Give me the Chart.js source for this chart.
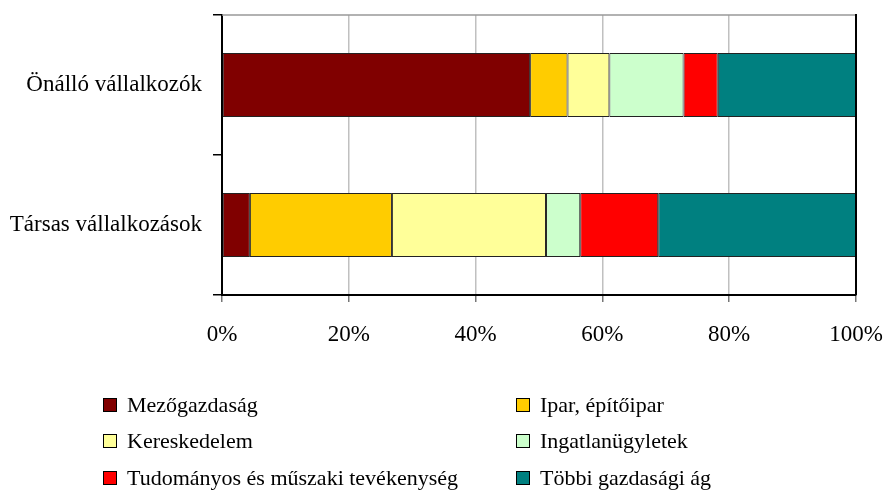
<!DOCTYPE html>
<html>
<head>
<meta charset="utf-8">
<script src="https://cdn.jsdelivr.net/npm/chart.js@4/dist/chart.umd.min.js"></script>
<style>
  html, body { margin: 0; padding: 0; background: #fff; }
  #wrap { position: relative; width: 887px; height: 493px; }
  #legend { position: absolute; left: 0; top: 0; width: 887px; height: 493px; pointer-events: none;
            font-family: 'Liberation Serif', serif; font-size: 22px; color: #000; }
  .item { position: absolute; display: flex; align-items: center; white-space: nowrap; }
  .box { width: 12px; height: 12px; border: 1px solid #000; margin-right: 10px; }
</style>
</head>
<body>
<div id="wrap">
  <canvas id="c" width="887" height="493"></canvas>
  <div id="legend"></div>
</div>
<script>
const categories = ['Önálló vállalkozók', 'Társas vállalkozások'];
const seriesNames = ['Mezőgazdaság', 'Ipar, építőipar', 'Kereskedelem', 'Ingatlanügyletek', 'Tudományos és műszaki tevékenység', 'Többi gazdasági ág'];
const mezogazdasag = [48.6, 4.4];
const ipar = [5.9, 22.4];
const kereskedelem = [6.6, 24.3];
const ingatlan = [11.7, 5.4];
const tudomanyos = [5.4, 12.3];
const tobbi = [21.8, 31.2];
const xTicks = [0, 20, 40, 60, 80, 100];
const colors = ['#800000', '#FFCC00', '#FFFF99', '#CCFFCC', '#FF0000', '#008080'];

const seriesValues = [mezogazdasag, ipar, kereskedelem, ingatlan, tudomanyos, tobbi];

Chart.defaults.font.family = "'Liberation Serif', serif";
Chart.defaults.font.size = 23;
Chart.defaults.color = '#000';

const borderPlugin = {
  id: 'areaBorder',
  afterDraw(chart) {
    const a = chart.chartArea, ctx = chart.ctx;
    ctx.save();
    ctx.strokeStyle = '#999';
    ctx.lineWidth = 1.5;
    ctx.beginPath(); ctx.moveTo(a.left, a.top); ctx.lineTo(a.right, a.top); ctx.stroke();
    ctx.strokeStyle = '#000';
    ctx.lineWidth = 2;
    ctx.beginPath(); ctx.moveTo(a.right, a.top - 1); ctx.lineTo(a.right, a.bottom); ctx.stroke();
    ctx.restore();
  }
};

const chart = new Chart(document.getElementById('c'), {
  type: 'bar',
  data: {
    labels: categories,
    datasets: seriesNames.map((n, i) => ({
      label: n,
      data: seriesValues[i],
      backgroundColor: colors[i],
      borderColor: '#222',
      borderWidth: 1,
      borderSkipped: false,
      categoryPercentage: 1,
      barPercentage: 0.457
    }))
  },
  options: {
    indexAxis: 'y',
    responsive: false,
    animation: false,
    layout: { padding: { left: 0, right: 31, top: 15, bottom: 138 } },
    plugins: { legend: { display: false }, tooltip: { enabled: false } },
    scales: {
      x: {
        stacked: true,
        min: 0, max: 100,
        afterBuildTicks(s) { s.ticks = xTicks.map(v => ({ value: v })); },
        afterFit(s) { s.height = 60; s.paddingLeft = 0; s.paddingRight = 0; },
        ticks: { callback: v => v + '%', padding: 19, font: { size: 23 }, maxRotation: 0 },
        grid: { color: '#c0c0c0', lineWidth: 1.5, tickLength: 7, tickColor: '#777' },
        border: { color: '#000', width: 2 }
      },
      y: {
        stacked: true,
        afterFit(s) { s.width = 222; s.paddingTop = 0; s.paddingBottom = 0; },
        ticks: { padding: 11, font: { size: 23 } },
        grid: { offset: true, drawOnChartArea: false, tickLength: 9, tickColor: '#000', lineWidth: 1.5 },
        border: { color: '#000', width: 2 }
      }
    }
  },
  plugins: [borderPlugin]
});

// legend in two columns built from chart datasets
const legend = document.getElementById('legend');
const colX = [103, 516];
const rowY = [404.5, 441, 477.5];
chart.data.datasets.forEach((ds, i) => {
  const el = document.createElement('div');
  el.className = 'item';
  el.style.left = colX[i % 2] + 'px';
  el.style.top = (rowY[Math.floor(i / 2)] - 13) + 'px';
  el.style.height = '26px';
  const b = document.createElement('span');
  b.className = 'box';
  b.style.background = ds.backgroundColor;
  const t = document.createElement('span');
  t.textContent = ds.label;
  el.appendChild(b); el.appendChild(t);
  legend.appendChild(el);
});
</script>
</body>
</html>
